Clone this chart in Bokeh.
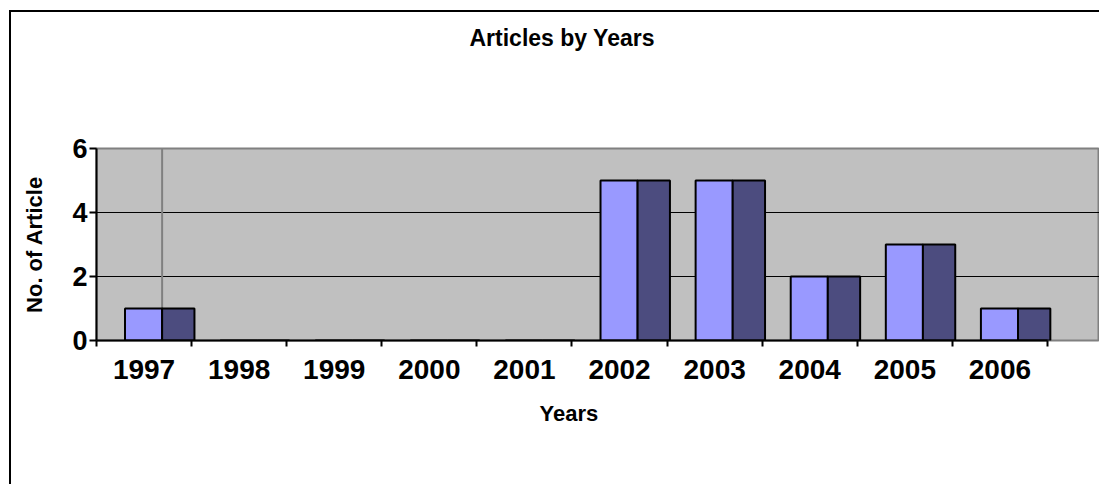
import numpy as np
from bokeh.plotting import figure
from bokeh.layouts import column
from bokeh.models import Range1d, FixedTicker, Title, Span, ColumnDataSource
from bokeh.embed import file_html
from bokeh.resources import INLINE

# ---- data ----
years = ["1997", "1998", "1999", "2000", "2001", "2002", "2003", "2004", "2005", "2006"]
series_1 = [1, 0, 0, 0, 0, 5, 5, 2, 3, 1]
series_2 = [1, 0, 0, 0, 0, 5, 5, 2, 3, 1]
y_ticks = [0, 2, 4, 6]

FONT = "Liberation Sans"
LIGHT = "#9999FF"
DARK = "#4C4C7F"

pos = np.arange(len(years)) + 0.5          # category centres
bounds = list(range(len(years) + 1))       # category boundaries (Excel tick marks)

src = ColumnDataSource(dict(
    x1=pos - 0.005, x2=pos + 0.36, s1=series_1, s2=series_2, year=years))

p = figure(width=1099, height=484, output_backend="svg", toolbar_location=None,
           x_range=Range1d(0, 10.547), y_range=Range1d(0, 6),
           min_border_left=96, min_border_right=0, min_border_top=0,
           min_border_bottom=144)
p.border_fill_color = None

p.background_fill_color = "#C0C0C0"
p.outline_line_color = "#808080"
p.outline_line_width = 2

# gridlines
p.xgrid.visible = False
p.ygrid.ticker = FixedTicker(ticks=y_ticks[1:-1])
p.ygrid.grid_line_color = "black"
p.ygrid.grid_line_width = 1

# vertical gray line through the first category
p.add_layout(Span(location=pos[0] + 0.19, dimension="height", line_color="#808080",
                  line_width=2, level="underlay"))

# bars
p.vbar(x="x1", top="s1", width=0.39, bottom=0, source=src, fill_color=LIGHT,
       line_color="black", line_width=2)
p.vbar(x="x2", top="s2", width=0.34, bottom=0, source=src, fill_color=DARK,
       line_color="black", line_width=2)

# x axis
xa = p.xaxis[0]
xa.ticker = FixedTicker(ticks=list(pos), minor_ticks=bounds)
xa.bounds = (0, len(years))
xa.major_label_overrides = {float(v): y for v, y in zip(pos, years)}
xa.major_tick_in = 0
xa.major_tick_out = 0
xa.minor_tick_in = 0
xa.minor_tick_out = 6
xa.minor_tick_line_color = "black"
xa.minor_tick_line_width = 2
xa.axis_line_color = "black"
xa.axis_line_width = 2
xa.major_label_standoff = 13
xa.major_label_text_font = FONT
xa.major_label_text_font_size = "28px"
xa.major_label_text_font_style = "bold"
xa.major_label_text_color = "black"

# y axis
ya = p.yaxis[0]
ya.ticker = FixedTicker(ticks=y_ticks, minor_ticks=[])
ya.major_tick_in = 0
ya.major_tick_out = 7
ya.major_tick_line_color = "black"
ya.major_tick_line_width = 2
ya.axis_line_color = "black"
ya.axis_line_width = 2
ya.major_label_standoff = 2
ya.major_label_text_font = FONT
ya.major_label_text_font_size = "27px"
ya.major_label_text_font_style = "bold"
ya.major_label_text_color = "black"
ya.axis_label = "No. of Article"
ya.axis_label_text_font = FONT
ya.axis_label_text_font_size = "22px"
ya.axis_label_text_font_style = "bold"
ya.axis_label_text_color = "black"
ya.axis_label_standoff = 22

# titles (a blank spacer keeps the chart title high above the plot area)
p.add_layout(Title(text=" ", standoff=44, text_font=FONT, text_font_size="23px"), "above")
p.add_layout(Title(text="Articles by Years", align="left", offset=373,
                   vertical_align="top", standoff=48, text_font=FONT,
                   text_font_size="23px", text_font_style="bold",
                   text_color="black"), "above")
p.add_layout(Title(text="Years", align="left", offset=443, vertical_align="top",
                   standoff=38, text_font=FONT, text_font_size="22px",
                   text_font_style="bold", text_color="black"), "below")

# outer chart-area border (only its left and top edges fall inside the crop)
border_svg = ("data:image/svg+xml;utf8,<svg xmlns='http://www.w3.org/2000/svg' "
              "width='1099' height='484'><path d='M10 484 V11 H1099' fill='none' "
              "stroke='black' stroke-width='2'/></svg>")
root = column(p, width=1099, height=484, styles={
    "overflow": "hidden",
    "background-color": "white",
    "background-image": f'url("{border_svg}")',
    "background-position": "0 0",
    "background-size": "1099px 484px",
    "background-repeat": "no-repeat",
})

open("out.html", "w").write(file_html(root, INLINE))
